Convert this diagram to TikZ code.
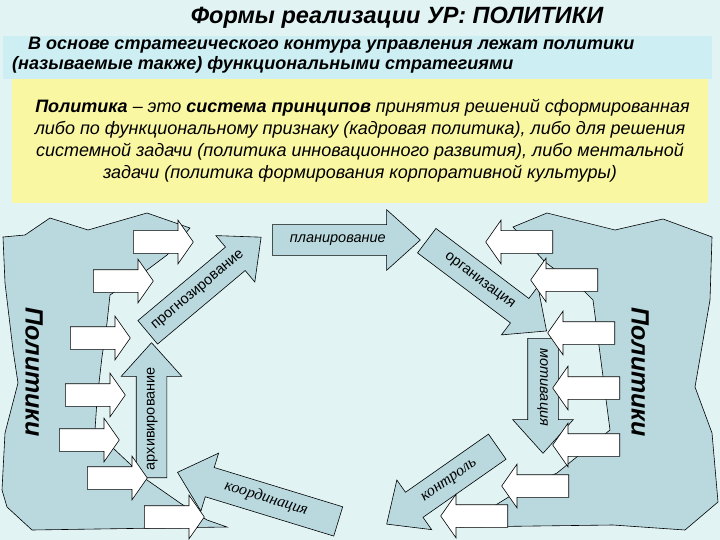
\documentclass[tikz,border=0pt]{standalone}
\usepackage{fontspec}
\setmainfont{Liberation Sans}
\newfontfamily\timesfam{Liberation Serif}
\usepackage{tikz}
\usetikzlibrary{shapes.arrows}

\definecolor{bgcyan}{HTML}{E2F3F4}
\definecolor{bandcyan}{HTML}{CDEFF4}
\definecolor{noteyellow}{HTML}{FAF7A2}
\definecolor{polblue}{HTML}{B9D9DF}

\begin{document}
\begin{tikzpicture}[x=1pt,y=-1pt,
  every node/.style={inner sep=0pt},
  grayarr/.style={single arrow,draw,fill=polblue,line width=0.6pt,
    single arrow head extend=15pt,single arrow tip angle=84,
    text height=8pt,text depth=2pt,inner xsep=2pt,inner ysep=10pt,
    anchor=tail,font=\itshape\fontsize{14.5}{16}\selectfont},
  whitearr/.style={single arrow,draw,fill=white,line width=0.6pt,
    single arrow head extend=10.5pt,single arrow tip angle=110,
    text height=0pt,text depth=0pt,inner xsep=0pt,inner ysep=11pt,
    minimum height=60pt,anchor=tail},
  polside/.style={draw,fill=polblue,line width=0.6pt},
  sidetext/.style={rotate=-90,font=\bfseries\itshape\fontsize{25}{30}\selectfont}]
  \fill[bgcyan] (0,0) rectangle (720,540);
  \useasboundingbox (0,0) rectangle (720,540);

  \node (title) at (397,18) {\bfseries\itshape\fontsize{23.5}{27}\selectfont Формы реализации УР: ПОЛИТИКИ};
  \fill[bandcyan] (3,36) rectangle (712,79);
  \node[anchor=north west,align=left,font=\bfseries\itshape\fontsize{18}{20}\selectfont] (intro) at (12,37)
    {\hspace*{16pt}В основе стратегического контура управления лежат политики\\
     (называемые также) функциональными стратегиями};
  \node[fill=noteyellow,minimum width=696pt,minimum height=124pt] (policybox) at (360,141) {};
  \node[align=center,font=\itshape\fontsize{18}{22}\selectfont] (policy) at (policybox)
    {\ \textbf{Политика} – это \textbf{система принципов} принятия решений сформированная\\
     либо по функциональному признаку (кадровая политика), либо для решения\\
     системной задачи (политика инновационного развития), либо ментальной\\
     задачи (политика формирования корпоративной культуры)};

  % left and right policy blocks
  \draw[polside] (3,237) -- (25,235) -- (50,218) -- (88,230) -- (147,213) -- (190,228)
    -- (167,255) -- (147,270) -- (110,295) -- (107,323) -- (102,357) -- (97,400)
    -- (95,430) -- (113,448) -- (147,480) -- (180,503) -- (207,520) -- (227,527)
    -- (32,530) -- (7,507) -- (2,490) -- (5,433) -- (18,383) -- (13,350) -- (5,283) -- cycle;
  \draw[polside] (513,227) -- (547,213) -- (615,230) -- (663,219) -- (712,237)
    -- (710,300) -- (695,387) -- (712,433) -- (718,502) -- (685,530) -- (613,525)
    -- (460,527) -- (520,490) -- (557,473) -- (610,430) -- (593,300) -- (585,292)
    -- (545,262) -- cycle;
  \node[sidetext] (polleft) at (34,372) {Политики};
  \node[sidetext] (polright) at (640,372) {Политики};

  % management functions
  \node[grayarr,minimum height=148pt] (plan) at (272,240) {планирование};
  \node[grayarr,minimum height=148pt,rotate=40,font=\fontsize{14.5}{16}\selectfont] (forecast) at (147.5,332.5) {прогнозирование};
  \node[grayarr,minimum height=150pt,rotate=-37,font=\fontsize{14.5}{16}\selectfont] (organize) at (426.5,240.5) {организация};
  \node[grayarr,minimum height=135pt,rotate=90,font=\fontsize{14.5}{16}\selectfont] (archive) at (151.5,478) {архивирование};
  \node[grayarr,minimum height=115pt,rotate=-90] (motivate) at (543,338) {мотивация};
  \node[grayarr,minimum height=135pt,rotate=35,shape border rotate=180,
    font=\timesfam\itshape\fontsize{16}{18}\selectfont] (control) at (497.5,446.5) {контроль};
  \node[grayarr,minimum height=168pt,rotate=-17,shape border rotate=180,
    font=\timesfam\itshape\fontsize{16}{18}\selectfont] (coordinate) at (338.5,521.5) {координация};

  % inputs from the policies
  \foreach \i/\tx/\ty in {1/133/242,2/93/281,3/70/338,4/65/395,5/59/440,6/87/478,7/144/517}
    \node[whitearr] (inl-\i) at (\tx,\ty) {};
  \foreach \i/\tx/\ty in {1/553/242,2/598/280,3/615/333,4/620/388,5/620/445,6/569/486,7/508/516}
    \node[whitearr,shape border rotate=180,minimum height=67pt] (inr-\i) at (\tx,\ty) {};
\end{tikzpicture}
\end{document}
